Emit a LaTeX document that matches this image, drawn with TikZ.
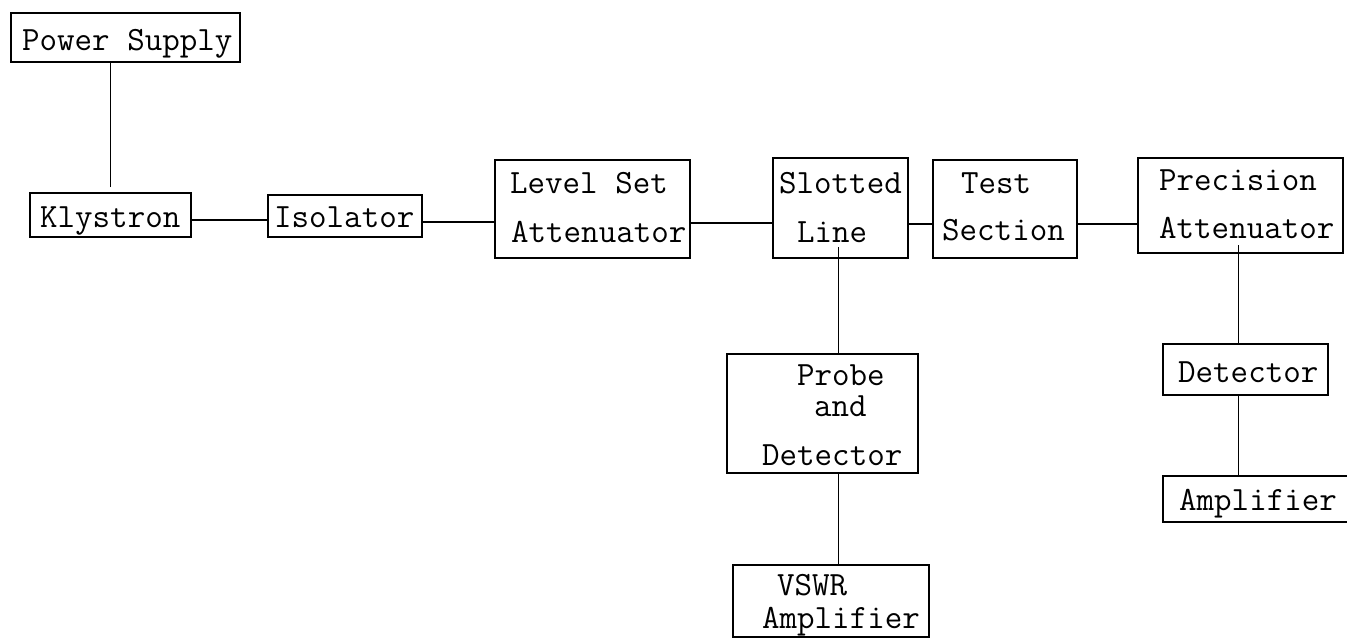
\documentclass[tikz,border=0pt]{standalone}
\begin{document}
\begin{tikzpicture}[x=1pt,y=-1pt,
  blk/.style={draw, line width=2pt, inner sep=0pt, outer sep=0pt},
  lbl/.style={anchor=base west, inner sep=0pt, font=\fontsize{34}{40}\selectfont\ttfamily},
  wire/.style={line width=1.9pt}]
\useasboundingbox[fill=white] (0,0) rectangle (1347,638);

% boxes
\node[blk, minimum width=229pt, minimum height=49pt]  (ps)  at (125.5,37.5) {};
\node[blk, minimum width=161pt, minimum height=44pt]  (kl)  at (110.5,215) {};
\node[blk, minimum width=154pt, minimum height=42pt]  (iso) at (345,216) {};
\node[blk, minimum width=195pt, minimum height=98pt]  (ls)  at (592.5,209) {};
\node[blk, minimum width=135pt, minimum height=100pt] (sl)  at (840.5,208) {};
\node[blk, minimum width=144pt, minimum height=98pt]  (ts)  at (1005,209) {};
\node[blk, minimum width=205pt, minimum height=95pt]  (pa)  at (1240.5,205.5) {};
\node[blk, minimum width=191pt, minimum height=119pt] (pd)  at (822.5,413.5) {};
\node[blk, minimum width=196pt, minimum height=72pt]  (vs)  at (831,601) {};
\node[blk, minimum width=165pt, minimum height=51pt]  (det) at (1245.5,369.5) {};
\node[blk, minimum width=189pt, minimum height=46pt]  (amp) at (1257.5,499) {};

% labels
\node[lbl] (t-ps)   at (22,50)    {Power Supply};
\node[lbl] (t-kl)   at (40,227)   {Klystron};
\node[lbl] (t-iso)  at (274,227)  {Isolator};
\node[lbl] (t-ls1)  at (510,193)  {Level Set};
\node[lbl] (t-ls2)  at (511,242)  {Attenuator};
\node[lbl] (t-sl1)  at (779,193)  {Slotted};
\node[lbl] (t-sl2)  at (797,242)  {Line};
\node[lbl] (t-ts1)  at (961,193)  {Test};
\node[lbl] (t-ts2)  at (942,240)  {Section};
\node[lbl] (t-pa1)  at (1159,190) {Precision};
\node[lbl] (t-pa2)  at (1159,238) {Attenuator};
\node[lbl] (t-pd1)  at (797,385)  {Probe};
\node[lbl] (t-pd2)  at (814,416)  {and};
\node[lbl] (t-pd3)  at (762,465)  {Detector};
\node[lbl] (t-vs1)  at (777,595)  {VSWR};
\node[lbl] (t-vs2)  at (762,628)  {Amplifier};
\node[lbl] (t-det)  at (1178,382) {Detector};
\node[lbl] (t-amp)  at (1179,510) {Amplifier};

% connectors
\draw[wire] ([yshift=6pt]kl.north) -- (kl.north |- ps.south);
\draw[wire] ([yshift=-5pt]kl.east) -- ([yshift=-5pt]kl.east -| iso.west);
\draw[wire] ([yshift=-6pt]iso.east) -- ([yshift=-6pt]iso.east -| ls.west);
\draw[wire] ([yshift=-14pt]ls.east) -- ([yshift=-14pt]ls.east -| sl.west);
\draw[wire] ([yshift=-16pt]sl.east) -- ([yshift=-16pt]sl.east -| ts.west);
\draw[wire] ([yshift=-15pt]ts.east) -- ([yshift=-15pt]ts.east -| pa.west);
\draw[wire] ([xshift=-2pt,yshift=11pt]sl.south) -- ([xshift=-2pt]sl.south |- pd.north);
\draw[wire] ([xshift=-2pt]sl.south |- pd.south) -- ([xshift=-2pt]sl.south |- vs.north);
\draw[wire] ([xshift=-2pt,yshift=8pt]pa.south) -- ([xshift=-2pt]pa.south |- det.north);
\draw[wire] ([xshift=-2pt]pa.south |- det.south) -- ([xshift=-2pt]pa.south |- amp.north);
\end{tikzpicture}
\end{document}
